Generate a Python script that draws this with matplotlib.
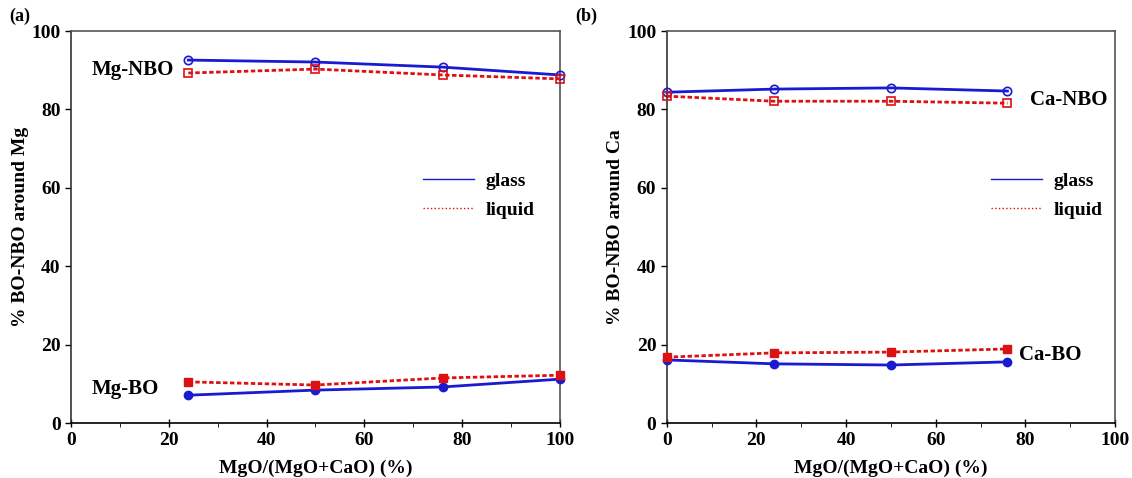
import matplotlib.pyplot as plt
from matplotlib.lines import Line2D
from matplotlib.ticker import MultipleLocator

plt.rcParams['font.family'] = 'Liberation Serif'
plt.rcParams['font.weight'] = 'bold'
plt.rcParams['axes.labelweight'] = 'bold'

# panel (a): Mg environment
x_a = [24, 50, 76, 100]
mg_nbo_glass = [92.6, 92.1, 90.8, 88.8]
mg_nbo_liquid = [89.3, 90.3, 88.8, 87.8]
mg_bo_glass = [7.1, 8.4, 9.2, 11.2]
mg_bo_liquid = [10.5, 9.7, 11.5, 12.2]

# panel (b): Ca environment
x_b = [0, 24, 50, 76]
ca_nbo_glass = [84.4, 85.2, 85.5, 84.7]
ca_nbo_liquid = [83.4, 82.1, 82.1, 81.6]
ca_bo_glass = [16.1, 15.1, 14.8, 15.6]
ca_bo_liquid = [16.8, 17.9, 18.1, 18.9]

blue = '#1a1ad0'
red = '#dd1111'
dots = (0, (1.6, 0.9))

fig = plt.figure(figsize=(11.32, 4.78), dpi=100)
ax1 = fig.add_axes([0.0627, 0.115, 0.432, 0.820])
ax2 = fig.add_axes([0.589, 0.115, 0.396, 0.820])


def draw(ax, x, nbo_g, nbo_l, bo_g, bo_l):
    kw = dict(ms=6, clip_on=False, zorder=3)
    ax.plot(x, nbo_g, '-', color=blue, lw=2, marker='o', mfc='none', mec=blue, mew=1.2, **kw)
    ax.plot(x, nbo_l, ls=dots, color=red, lw=2, marker='s', mfc='none', mec=red, mew=1.2, **kw)
    ax.plot(x, bo_g, '-', color=blue, lw=2, marker='o', mfc=blue, mec=blue, **kw)
    ax.plot(x, bo_l, ls=dots, color=red, lw=2, marker='s', mfc=red, mec=red, **kw)
    ax.set_xlim(0, 100)
    ax.set_ylim(0, 100)
    ax.xaxis.set_major_locator(MultipleLocator(20))
    ax.xaxis.set_minor_locator(MultipleLocator(10))
    ax.yaxis.set_major_locator(MultipleLocator(20))
    ax.tick_params(axis='both', labelsize=14, length=4, width=1, direction='out')
    ax.tick_params(axis='x', which='major', length=6, direction='inout')
    ax.tick_params(axis='x', which='minor', length=3)
    ax.set_xlabel('MgO/(MgO+CaO) (%)', fontsize=14, labelpad=8)
    for s in ax.spines.values():
        s.set_color('#555555')
        s.set_linewidth(1.2)
    ax.spines['bottom'].set_color('black')
    ax.spines['left'].set_color('#333333')
    handles = [Line2D([], [], color=blue, lw=1, ls='-'),
               Line2D([], [], color=red, lw=1, ls=':')]
    ax.legend(handles, ['glass', 'liquid'], loc='center left',
              bbox_to_anchor=(0.685, 0.58), frameon=False, fontsize=14,
              handlelength=2.6, handletextpad=0.6, labelspacing=0.6)


draw(ax1, x_a, mg_nbo_glass, mg_nbo_liquid, mg_bo_glass, mg_bo_liquid)
draw(ax2, x_b, ca_nbo_glass, ca_nbo_liquid, ca_bo_glass, ca_bo_liquid)

ax1.set_ylabel('% BO-NBO around Mg', fontsize=14, labelpad=2)
ax2.set_ylabel('% BO-NBO around Ca', fontsize=14, labelpad=2)

ax1.text(21, mg_nbo_liquid[0] + 0.8, 'Mg-NBO', fontsize=15, ha='right', va='center')
ax1.text(18, mg_bo_glass[0] + 1.7, 'Mg-BO', fontsize=15, ha='right', va='center')
ax2.text(81, ca_nbo_liquid[-1] + 0.8, 'Ca-NBO', fontsize=15, ha='left', va='center')
ax2.text(78.5, ca_bo_liquid[-1] - 1.5, 'Ca-BO', fontsize=15, ha='left', va='center')

fig.text(0.008, 0.965, '(a)', fontsize=13, va='center')
fig.text(0.508, 0.965, '(b)', fontsize=13, va='center')

fig.savefig('out.png', dpi=100)
